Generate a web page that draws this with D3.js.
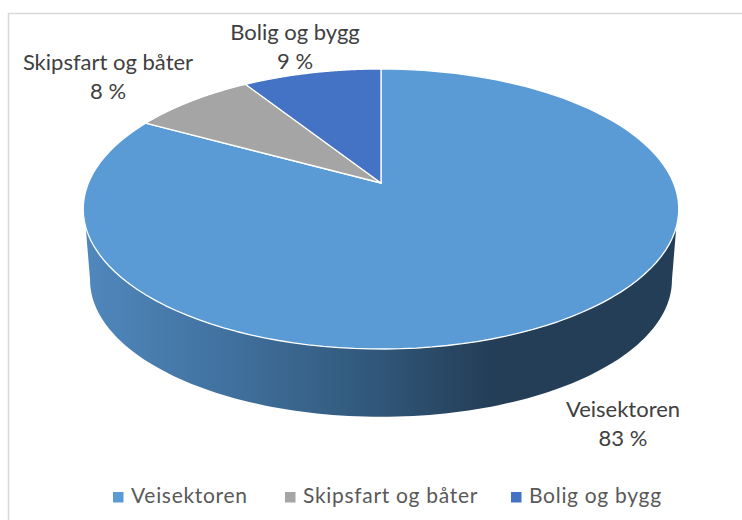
<!DOCTYPE html>
<html><head><meta charset="utf-8">
<script src="https://cdn.jsdelivr.net/npm/d3@7"></script>
<style>html,body{margin:0;padding:0;background:#fff;overflow:hidden}svg{display:block}text{font-family:Lato,sans-serif}</style>
</head><body><svg id="c" width="742" height="520"></svg>
<script>
const categories = ["Veisektoren", "Skipsfart og båter", "Bolig og bygg"];
const values = [83, 8, 9];
const colors = ["#5b9bd5", "#a5a5a5", "#4472c4"];

const svg = d3.select("#c");
svg.append("rect").attr("x",8.5).attr("y",13.5).attr("width",900).attr("height",700)
  .attr("fill","#fff").attr("stroke","#d9d9d9").attr("stroke-width",1.5);

// Perspective projection of the disc
const K = -0.1857;
function project(theta, level){
  const u = Math.sin(theta), v = -Math.cos(theta), d = 1 + K*v;
  const s = level ? 0.977 : 1, ay = level ? 254.6 : 183;
  return [381 + s*292.6*u/d, ay + s*135.2*v/d];
}
const line = d3.line();
const arcPts = (a0,a1,level) => d3.range(0,121).map(i => project(a0+(a1-a0)*i/120, level));

const defs = svg.append("defs");
const grad = defs.append("linearGradient").attr("id","side").attr("gradientUnits","userSpaceOnUse")
  .attr("x1",84).attr("x2",680).attr("y1",0).attr("y2",0);
[[0,"#5088bd"],[0.25,"#40709d"],[0.5,"#305678"],[0.68,"#243e57"],[1,"#233e56"]]
  .forEach(s => grad.append("stop").attr("offset",s[0]).attr("stop-color",s[1]));

// Side wall
const rad = d => d*Math.PI/180;
const sidePts = arcPts(rad(107.9),rad(252.1),0).concat(arcPts(rad(259.3),rad(100.7),1));
svg.append("path").attr("d",line(sidePts)+"Z").attr("fill","url(#side)");

// Top face
const pie = d3.pie().sort(null).value(d=>d)(values);
const apex = [381,183];
svg.append("g").selectAll("path").data(pie).join("path")
  .attr("d",d => line([apex].concat(arcPts(d.startAngle,d.endAngle,0)))+"Z")
  .attr("fill",(d,i)=>colors[i]).attr("stroke","#fff").attr("stroke-width",1.3).attr("stroke-linejoin","round");

// Data labels
const labelAt = [[623,417,446],[108,70,99],[295,40,69]];
const lg = svg.append("g").attr("fill","#404040").attr("font-size",22).attr("text-anchor","middle");
categories.forEach((c,i)=>{
  lg.append("text").attr("x",labelAt[i][0]).attr("y",labelAt[i][1]).text(c);
  lg.append("text").attr("x",labelAt[i][0]).attr("y",labelAt[i][2]).text(values[i]+" %");
});

// Legend
const legendX = [113,285,511];
const leg = svg.append("g");
categories.forEach((c,i)=>{
  leg.append("rect").attr("x",legendX[i]).attr("y",492).attr("width",10.5).attr("height",10.5).attr("fill",colors[i]);
  leg.append("text").attr("x",legendX[i]+18).attr("y",503).attr("fill","#595959")
    .attr("font-size",21).attr("letter-spacing",0.7).text(c);
});
</script></body></html>
